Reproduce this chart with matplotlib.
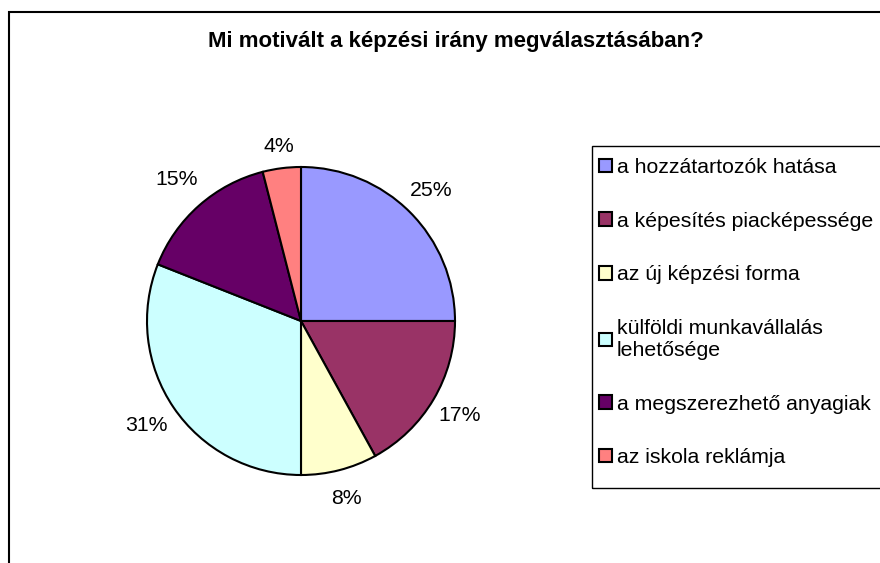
# kördiagram: mi motivált a képzési irány megválasztásában

import matplotlib
matplotlib.use('Agg')
import matplotlib.pyplot as plt
from matplotlib.patches import Rectangle

plt.rcParams['font.family'] = ['Liberation Sans', 'DejaVu Sans']

categories = ['a hozzátartozók hatása',
              'a képesítés piacképessége',
              'az új képzési forma',
              'külföldi munkavállalás\nlehetősége',
              'a megszerezhető anyagiak',
              'az iskola reklámja']
values = [25, 17, 8, 31, 15, 4]
colors = ['#9999FF', '#993366', '#FFFFCC', '#CCFFFF', '#660066', '#FF8080']

W, H = 880, 563
fig = plt.figure(figsize=(W / 100, H / 100), dpi=100)

# kör helye pixelben: középpont (301, 321), sugár 154
cx, cy, r = 301, 321, 154
half = 1.4 * r
ax = fig.add_axes([(cx - half) / W, 1 - (cy + half) / H, 2 * half / W, 2 * half / H])

lab_dist = 1.2
wedges, texts = ax.pie(values, labels=[f'{v}%' for v in values], colors=colors,
                       startangle=90, counterclock=False, labeldistance=lab_dist,
                       wedgeprops=dict(edgecolor='black', linewidth=1.5),
                       textprops=dict(fontsize=15.3))
# az Excel a kis szeletek címkéjét közelebb teszi
label_scale = [1.0, 1.0, 0.99, 1.01, 1.02, 0.95]
for t, k in zip(texts, label_scale):
    t.set_ha('center')
    x, y = t.get_position()
    t.set_position((x * k, y * k))
ax.set_xlim(-1.4, 1.4)
ax.set_ylim(-1.4, 1.4)
ax.axis('off')

# külső keret (jobbra és lent levágva)
fig.add_artist(Rectangle((9 / W, -0.5), 1.0, 1.5 - 12 / H, transform=fig.transFigure,
                         fill=False, edgecolor='black', linewidth=1.5))

fig.text(455.5 / W, 1 - 42 / H, 'Mi motivált a képzési irány megválasztásában?',
         ha='center', va='center', fontsize=16, fontweight='bold')

# jelmagyarázat kerete
fig.add_artist(Rectangle((592 / W, 1 - 488 / H), 1.0, (488 - 146) / H,
                         transform=fig.transFigure, fill=False,
                         edgecolor='black', linewidth=1.0))
ax.legend(wedges, categories, loc='upper left',
          bbox_to_anchor=(599 / W, 1 - 158 / H), bbox_transform=fig.transFigure,
          frameon=False, borderpad=0, borderaxespad=0, fontsize=15.3,
          handlelength=0.6, handleheight=0.6, handletextpad=0.25,
          labelspacing=1.63)

fig.savefig('out.png', dpi=100)
